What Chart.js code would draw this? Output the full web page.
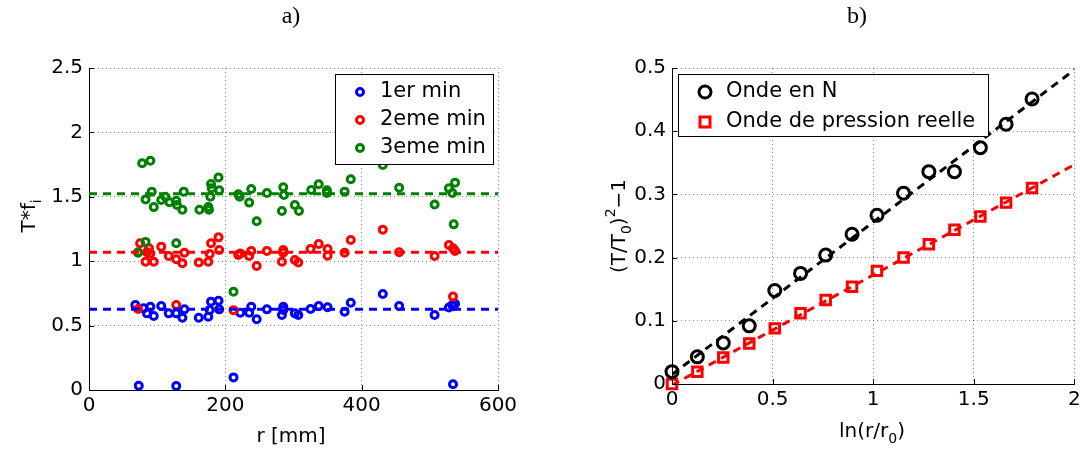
<!DOCTYPE html>
<html>
<head>
<meta charset="utf-8">
<script src="https://cdn.jsdelivr.net/npm/chart.js@4"></script>
<style>
  html, body { margin: 0; padding: 0; background: #fff; }
  #wrap { position: relative; width: 1084px; height: 450px; }
  canvas { position: absolute; top: 0; }
  #fig-a { left: 0; }
  #fig-b { left: 542px; }
</style>
</head>
<body>
<div id="wrap">
  <canvas id="fig-a" width="542" height="450" style="width:542px;height:450px"></canvas>
  <canvas id="fig-b" width="542" height="450" style="width:542px;height:450px"></canvas>
</div>
<script>
// a) T*f_i en fonction de r, pour les trois minutes
const r1 = [68, 80, 85, 90, 95, 106, 117, 128, 137, 140, 161, 175, 177, 179, 190, 191, 222, 235, 238, 246, 261, 285, 285, 283, 302, 307, 325, 337, 350, 375, 384, 431, 455, 507, 528, 533, 537, 534, 73, 128, 212, 534];
const v1 = [0.66, 0.634, 0.595, 0.647, 0.574, 0.652, 0.595, 0.595, 0.561, 0.626, 0.561, 0.569, 0.621, 0.686, 0.693, 0.626, 0.60, 0.60, 0.647, 0.549, 0.626, 0.647, 0.621, 0.582, 0.595, 0.582, 0.629, 0.652, 0.642, 0.608, 0.678, 0.745, 0.652, 0.582, 0.64, 0.66, 0.67, 0.65, 0.033, 0.031, 0.098, 0.044];

const r2 = [72, 75, 85, 88, 90, 83, 95, 106, 117, 128, 137, 140, 161, 175, 177, 179, 190, 191, 219, 222, 235, 238, 246, 261, 285, 285, 283, 302, 307, 325, 337, 350, 350, 375, 384, 431, 455, 507, 528, 534, 537, 72, 128, 212, 534];
const v2 = [1.07, 1.14, 1.07, 1.10, 1.06, 0.996, 0.996, 1.113, 1.04, 1.015, 0.984, 1.066, 0.99, 0.996, 1.056, 1.14, 1.185, 1.087, 1.048, 1.06, 1.04, 1.08, 0.963, 1.08, 1.087, 1.066, 0.996, 1.01, 0.99, 1.095, 1.133, 1.095, 1.043, 1.066, 1.165, 1.245, 1.069, 1.04, 1.126, 1.10, 1.08, 0.629, 0.66, 0.62, 0.725];

const r3 = [78, 90, 92, 83, 95, 106, 112, 118, 128, 129, 137, 139, 162, 175, 176, 178, 179, 180, 190, 191, 219, 221, 235, 238, 246, 261, 285, 286, 283, 302, 308, 326, 337, 349, 349, 375, 384, 431, 455, 507, 528, 533, 537, 535, 83, 72, 128, 212];
const v3 = [1.76, 1.78, 1.54, 1.48, 1.42, 1.475, 1.50, 1.457, 1.47, 1.436, 1.40, 1.54, 1.40, 1.42, 1.40, 1.50, 1.60, 1.566, 1.65, 1.55, 1.52, 1.50, 1.455, 1.56, 1.31, 1.53, 1.574, 1.514, 1.39, 1.436, 1.39, 1.553, 1.597, 1.55, 1.53, 1.54, 1.636, 1.747, 1.57, 1.44, 1.566, 1.53, 1.61, 1.286, 1.15, 1.066, 1.14, 0.763];

// moyennes (droites horizontales)
const rMoy = [0, 600];
const moy = [0.626, 1.069, 1.524];

// b) (T/T0)^2 - 1 en fonction de ln(r/r0)
const lnR = [0, 0.126, 0.255, 0.384, 0.511, 0.639, 0.764, 0.895, 1.019, 1.151, 1.277, 1.404, 1.533, 1.661, 1.79];
const ondeN = [0.0195, 0.043, 0.065, 0.092, 0.148, 0.175, 0.204, 0.237, 0.267, 0.302, 0.336, 0.336, 0.374, 0.411, 0.451];
const ondeP = [0, 0.0195, 0.042, 0.064, 0.088, 0.112, 0.133, 0.154, 0.179, 0.20, 0.221, 0.244, 0.265, 0.287, 0.31];
const fitX = [0, 2];
const fitN = [0.015, 0.497];
const fitP = [-0.002, 0.347];

const BLUE = "#0000ff", RED = "#ff0000", GREEN = "#008000";
const SANS = '"DejaVu Sans", "Liberation Sans", Arial, sans-serif';
const SERIF = '"Liberation Serif", "DejaVu Serif", serif';

const pts = (xs, ys) => xs.map((x, i) => ({ x, y: ys[i] }));

// texte avec indices / exposants, centré sur (x, y)
function richText(ctx, parts, x, y, size, rot) {
  ctx.save();
  ctx.translate(x, y);
  ctx.rotate(rot || 0);
  const small = Math.round(size * 0.72);
  const fonts = parts.map((p) => (p[1] ? small : size) + "px " + SANS);
  let w = 0;
  parts.forEach((p, i) => { ctx.font = fonts[i]; w += ctx.measureText(p[0]).width; });
  let cx = -w / 2;
  ctx.fillStyle = "#000";
  ctx.textBaseline = "middle";
  ctx.textAlign = "left";
  parts.forEach((p, i) => {
    ctx.font = fonts[i];
    const dy = p[1] === 1 ? size * 0.38 : p[1] === 2 ? -size * 0.42 : 0;
    ctx.fillText(p[0], cx, dy);
    cx += ctx.measureText(p[0]).width;
  });
  ctx.restore();
}

const labels = {
  id: "labels",
  afterDraw(chart, args, o) {
    const ctx = chart.ctx;
    ctx.save();
    ctx.fillStyle = "#000";
    ctx.textAlign = "center";
    ctx.textBaseline = "middle";
    ctx.font = "24px " + SERIF;
    ctx.fillText(o.title, o.titleX, 17);
    ctx.restore();
    for (const it of o.items) richText(ctx, it.parts, it.x, it.y, 20, it.rot);
  },
};

// petites graduations vers l'intérieur, comme sous MATLAB
const inTicks = {
  id: "inTicks",
  afterDraw(chart, args, o) {
    const { ctx, chartArea: a, scales } = chart;
    ctx.save();
    ctx.strokeStyle = "#000";
    ctx.lineWidth = 1;
    ctx.beginPath();
    for (const t of scales.x.ticks) {
      const px = Math.round(scales.x.getPixelForValue(t.value)) + 0.5;
      ctx.moveTo(px, a.bottom);
      ctx.lineTo(px, a.bottom - o.len);
    }
    for (const t of scales.y.ticks) {
      const py = Math.round(scales.y.getPixelForValue(t.value)) + 0.5;
      ctx.moveTo(a.left, py);
      ctx.lineTo(a.left + o.len, py);
    }
    ctx.stroke();
    ctx.restore();
  },
};

const boxLegend = {
  id: "boxLegend",
  afterDraw(chart, args, o) {
    const ctx = chart.ctx;
    ctx.save();
    ctx.fillStyle = "#fff";
    ctx.fillRect(o.x, o.y, o.w, o.h);
    ctx.strokeStyle = "#000";
    ctx.lineWidth = 1;
    ctx.strokeRect(o.x + 0.5, o.y + 0.5, o.w, o.h);
    o.items.forEach((it, i) => {
      const cy = o.y + o.first + i * o.step;
      ctx.lineWidth = it.bw;
      ctx.strokeStyle = it.color;
      ctx.beginPath();
      if (it.shape === "rect") ctx.rect(o.mx - it.r, cy - it.r, 2 * it.r, 2 * it.r);
      else ctx.arc(o.mx, cy, it.r, 0, 2 * Math.PI);
      ctx.stroke();
      ctx.fillStyle = "#000";
      ctx.font = o.font;
      ctx.textAlign = "left";
      ctx.textBaseline = "middle";
      ctx.fillText(it.label, o.tx, cy);
    });
    ctx.restore();
  },
};

function axis(min, max, step, size, isY) {
  return {
    type: "linear",
    min, max,
    ticks: {
      stepSize: step,
      color: "#000",
      padding: isY ? 6 : 4,
      font: { family: SANS, size: 20 },
      maxRotation: 0,
      callback: (v) => String(+v.toFixed(3)),
    },
    grid: { color: "rgba(0,0,0,0.45)", lineWidth: 1, drawTicks: false },
    border: { display: true, color: "#000", width: 1, dash: [1, 3] },
    afterFit(s) {
      if (isY) s.width = size; else s.height = size;
      s.paddingLeft = s.paddingRight = s.paddingTop = s.paddingBottom = 0;
    },
  };
}

function scatterSet(data, color, r, bw, style, order) {
  return {
    data, showLine: false, order, clip: false,
    pointStyle: style || "circle",
    pointRadius: r, pointBorderWidth: bw,
    pointBorderColor: color, pointBackgroundColor: "rgba(0,0,0,0)",
  };
}
function lineSet(data, color, order) {
  return {
    data, showLine: true, order, pointRadius: 0,
    borderColor: color, borderWidth: 3, borderDash: [8, 6],
  };
}

Chart.defaults.font.family = SANS;

new Chart(document.getElementById("fig-a"), {
  type: "scatter",
  data: {
    datasets: [
      lineSet(pts(rMoy, [moy[0], moy[0]]), BLUE, 0),
      lineSet(pts(rMoy, [moy[1], moy[1]]), RED, 0),
      lineSet(pts(rMoy, [moy[2], moy[2]]), GREEN, 0),
      scatterSet(pts(r3, v3), GREEN, 3.5, 3, "circle", 3),
      scatterSet(pts(r2, v2), RED, 3.5, 3, "circle", 4),
      scatterSet(pts(r1, v1), BLUE, 3.5, 3, "circle", 5),
    ],
  },
  options: {
    responsive: false,
    animation: false,
    events: [],
    layout: { padding: { left: 0, top: 68, right: 44, bottom: 0 } },
    scales: {
      x: axis(0, 600, 200, 60, false),
      y: axis(0, 2.5, 0.5, 89, true),
    },
    plugins: {
      legend: { display: false },
      tooltip: { enabled: false },
      inTicks: { len: 5 },
      labels: {
        title: "a)", titleX: 291,
        items: [
          { parts: [["r [mm]", 0]], x: 291, y: 437 },
          { parts: [["T*f", 0], ["i", 1]], x: 30, y: 216, rot: -Math.PI / 2 },
        ],
      },
      boxLegend: {
        x: 335, y: 74, w: 158, h: 90, first: 18, step: 28, mx: 360, tx: 380,
        font: "21px " + SANS,
        items: [
          { label: "1er min", color: BLUE, r: 3.5, bw: 3 },
          { label: "2eme min", color: RED, r: 3.5, bw: 3 },
          { label: "3eme min", color: GREEN, r: 3.5, bw: 3 },
        ],
      },
    },
  },
  plugins: [inTicks, boxLegend, labels],
});

new Chart(document.getElementById("fig-b"), {
  type: "scatter",
  data: {
    datasets: [
      lineSet(pts(fitX, fitN), "#000", 0),
      lineSet(pts(fitX, fitP), RED, 1),
      scatterSet(pts(lnR, ondeN), "#000", 6, 3, "circle", 2),
      scatterSet(pts(lnR, ondeP), RED, 6.7, 3, "rect", 3),
    ],
  },
  options: {
    responsive: false,
    animation: false,
    events: [],
    layout: { padding: { left: 0, top: 68, right: 9, bottom: 0 } },
    scales: {
      x: axis(0, 2, 0.5, 66, false),
      y: axis(0, 0.5, 0.1, 130, true),
    },
    plugins: {
      legend: { display: false },
      tooltip: { enabled: false },
      inTicks: { len: 5 },
      labels: {
        title: "b)", titleX: 315,
        items: [
          { parts: [["ln(r/r", 0], ["0", 1], [")", 0]], x: 330, y: 432 },
          { parts: [["(T/T", 0], ["0", 1], [")", 0], ["2", 2], ["\u22121", 0]], x: 78, y: 226, rot: -Math.PI / 2 },
        ],
      },
      boxLegend: {
        x: 136, y: 74, w: 310, h: 62, first: 18, step: 30, mx: 163, tx: 184,
        font: "21px " + SANS,
        items: [
          { label: "Onde en N", color: "#000", r: 6, bw: 3 },
          { label: "Onde de pression reelle", color: RED, r: 5, bw: 3, shape: "rect" },
        ],
      },
    },
  },
  plugins: [inTicks, boxLegend, labels],
});
</script>
</body>
</html>
